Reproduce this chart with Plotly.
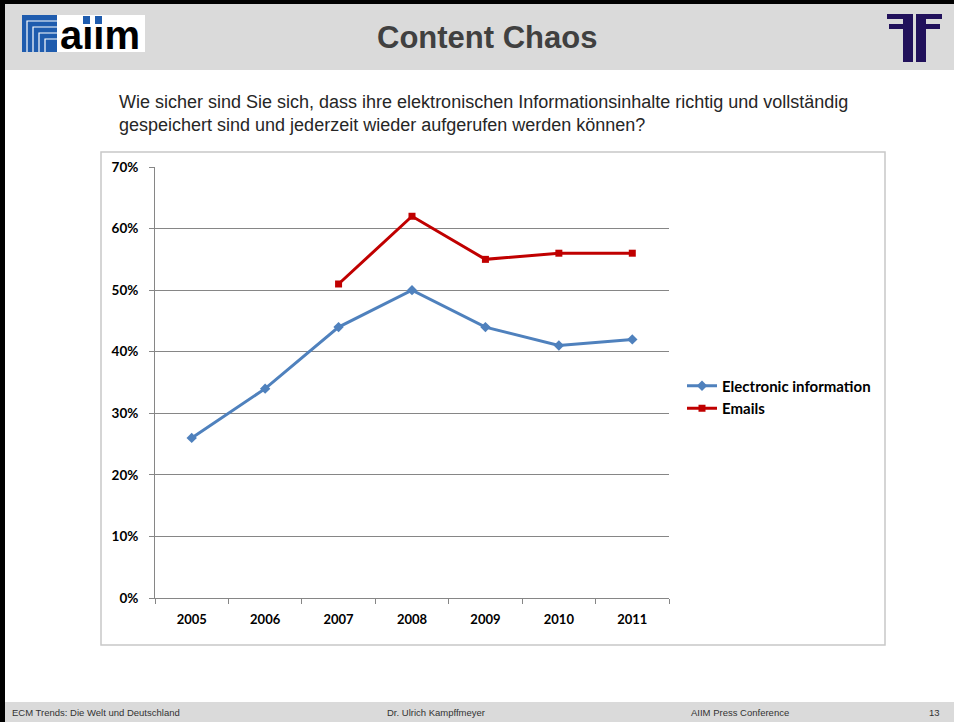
import plotly.graph_objects as go

years = ["2005", "2006", "2007", "2008", "2009", "2010", "2011"]
electronic_info = [0.26, 0.34, 0.44, 0.50, 0.44, 0.41, 0.42]
emails = [None, None, 0.51, 0.62, 0.55, 0.56, 0.56]
series_names = ["Electronic information", "Emails"]

W, H = 954, 722
def px(x):
    return x / W
def py(y):
    return 1 - y / H

fig = go.Figure()
fig.add_trace(go.Scatter(
    x=years, y=electronic_info, name=series_names[0], mode="lines+markers",
    line=dict(color="#4f81bd", width=3),
    marker=dict(symbol="diamond", size=8, color="#4f81bd"),
))
fig.add_trace(go.Scatter(
    x=years, y=emails, name=series_names[1], mode="lines+markers",
    line=dict(color="#c00000", width=3),
    marker=dict(symbol="square", size=7, color="#c00000"),
    connectgaps=False,
))

shapes = []
# header band
shapes.append(dict(type="rect", xref="paper", yref="paper", x0=px(0), x1=px(954), y0=py(70), y1=py(0),
                   fillcolor="#dadada", line=dict(width=0), layer="below"))
# footer band
shapes.append(dict(type="rect", xref="paper", yref="paper", x0=px(0), x1=px(954), y0=py(722), y1=py(702),
                   fillcolor="#dadada", line=dict(width=0), layer="below"))
# slide borders
shapes.append(dict(type="rect", xref="paper", yref="paper", x0=px(0), x1=px(5), y0=py(722), y1=py(0),
                   fillcolor="#000000", line=dict(width=0)))
shapes.append(dict(type="rect", xref="paper", yref="paper", x0=px(0), x1=px(954), y0=py(4), y1=py(0),
                   fillcolor="#000000", line=dict(width=0)))
# chart box
shapes.append(dict(type="rect", xref="paper", yref="paper", x0=px(101), x1=px(885), y0=py(645), y1=py(152),
                   fillcolor="rgba(0,0,0,0)", line=dict(color="#c8c8c8", width=1.5), layer="below"))
# aiim logo
shapes.append(dict(type="rect", xref="paper", yref="paper", x0=px(57), x1=px(145), y0=py(52), y1=py(15),
                   fillcolor="#ffffff", line=dict(width=0)))
shapes.append(dict(type="rect", xref="paper", yref="paper", x0=px(22), x1=px(57), y0=py(52), y1=py(15),
                   fillcolor="#1f5cae", line=dict(width=0)))
for k in range(4):
    x0 = 27 + k * 6
    y0 = 21 + k * 6
    shapes.append(dict(type="path", xref="paper", yref="paper",
                       path=f"M {px(x0)},{py(52)} L {px(x0)},{py(y0)} L {px(57)},{py(y0)}",
                       line=dict(color="#ffffff", width=1.2)))
for xi in [83, 95]:
    shapes.append(dict(type="rect", xref="paper", yref="paper", x0=px(xi), x1=px(xi + 7), y0=py(24), y1=py(16),
                       fillcolor="#1f5cae", line=dict(width=0)))
# FF logo
ffc = "#21115b"
for (x0, x1, y0, y1) in [(887, 913, 14, 19), (889, 913, 24, 29), (903, 913, 14, 62),
                         (916, 942, 14, 19), (916, 940, 24, 29), (916, 926, 14, 62)]:
    shapes.append(dict(type="rect", xref="paper", yref="paper", x0=px(x0), x1=px(x1), y0=py(y1), y1=py(y0),
                       fillcolor=ffc, line=dict(width=0)))

annotations = [
    dict(text="<b>Content Chaos</b>", x=px(487), y=py(38), xref="paper", yref="paper", showarrow=False,
         font=dict(family="Liberation Sans", size=31, color="#404040"), xanchor="center", yanchor="middle"),
    dict(text="a\u0131\u0131m", x=px(58), y=py(35), xref="paper", yref="paper", showarrow=False,
         font=dict(family="Liberation Sans", size=40, color="#000000", weight="bold"),
         xanchor="left", yanchor="middle"),
    dict(text="Wie sicher sind Sie sich, dass ihre elektronischen Informationsinhalte richtig und vollständig",
         x=px(117), y=py(102), xref="paper", yref="paper", showarrow=False,
         font=dict(family="Liberation Sans", size=18, color="#262626"), xanchor="left", yanchor="middle"),
    dict(text="gespeichert sind und jederzeit wieder aufgerufen werden können?",
         x=px(117), y=py(125), xref="paper", yref="paper", showarrow=False,
         font=dict(family="Liberation Sans", size=18, color="#262626"), xanchor="left", yanchor="middle"),
]
footer = [("ECM Trends: Die Welt und Deutschland", 10, "left"),
          ("Dr. Ulrich Kampffmeyer", 385, "left"),
          ("AIIM Press Conference", 689, "left"),
          ("13", 942, "right")]
for t, x, anc in footer:
    annotations.append(dict(text=t, x=px(x), y=py(712), xref="paper", yref="paper", showarrow=False,
                            font=dict(family="Liberation Sans Narrow, Liberation Sans", size=9.5, color="#333333"),
                            xanchor=anc, yanchor="middle"))

fig.update_layout(
    width=W, height=H,
    margin=dict(l=0, r=0, t=0, b=0, autoexpand=False),
    paper_bgcolor="#ffffff", plot_bgcolor="#ffffff",
    shapes=shapes, annotations=annotations,
    showlegend=True,
    legend=dict(x=px(682), y=py(397), xanchor="left", yanchor="middle", bgcolor="rgba(0,0,0,0)",
                font=dict(family="Lato", size=15, color="#000000", weight="bold"),
                itemwidth=30, tracegroupgap=16),
    xaxis=dict(domain=[px(155), px(669)], type="category", tickson="boundaries",
               showgrid=False, showline=True, linecolor="#868686", linewidth=1,
               ticks="outside", ticklen=5, tickcolor="#868686",
               ticklabelstandoff=9, automargin=False,
               tickfont=dict(family="Lato", size=13, color="#000000", weight="bold"),
               anchor="y", range=[-0.5, 6.5], fixedrange=True),
    yaxis=dict(domain=[py(598), py(167)], range=[0, 0.7], dtick=0.1, tickformat=".0%",
               showgrid=True, gridcolor="#868686", gridwidth=1,
               showline=True, linecolor="#868686", linewidth=1,
               ticks="outside", ticklen=5, tickcolor="#868686", zeroline=False,
               ticklabelstandoff=8, automargin=False,
               tickfont=dict(family="Lato", size=13.5, color="#000000", weight="bold"),
               anchor="x", fixedrange=True),
)

fig.write_html(
    "out.html", config={"displayModeBar": False},
    post_script="document.body.style.margin='0';document.body.style.overflow='hidden';",
)
